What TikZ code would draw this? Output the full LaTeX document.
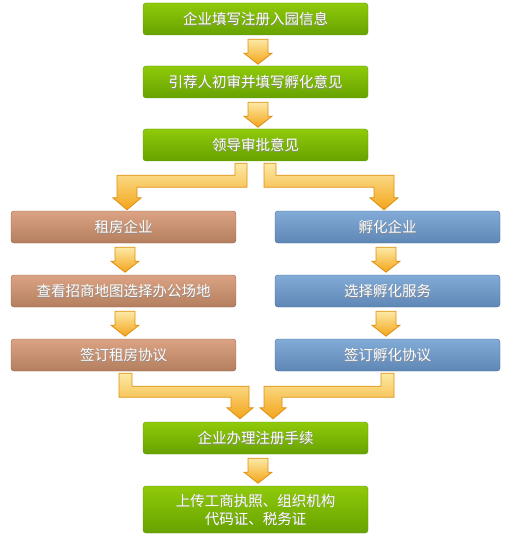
\documentclass[tikz,border=0pt]{standalone}
\usepackage{fontspec}
\setmainfont{Noto Sans CJK SC}
\usetikzlibrary{calc}
\definecolor{gtop}{HTML}{8FCA0A}
\definecolor{gbot}{HTML}{67A200}
\definecolor{gedge}{HTML}{5E9A10}
\definecolor{btop}{HTML}{DBA383}
\definecolor{bbot}{HTML}{B47F5F}
\definecolor{bedge}{HTML}{936445}
\definecolor{ltop}{HTML}{82ABD7}
\definecolor{lbot}{HTML}{5F87B6}
\definecolor{ledge}{HTML}{46699A}
\definecolor{atop}{HTML}{FCEAA6}
\definecolor{abot}{HTML}{F3A51A}
\definecolor{aedge}{HTML}{E08E10}
\tikzset{
  box/.style={rounded corners=3pt, minimum width=225pt, minimum height=32pt,
    inner sep=0pt, font=\fontsize{14.5}{19}\selectfont, text=white, align=center},
  gbox/.style={box, draw=gedge, top color=gtop, bottom color=gbot},
  brbox/.style={box, draw=bedge, top color=btop, bottom color=bbot},
  blbox/.style={box, draw=ledge, top color=ltop, bottom color=lbot},
  blockarrow/.style={draw=aedge, line width=0.8pt, line join=miter, top color=atop, bottom color=abot},
}
\newcommand\shtext[1]{\makebox[0pt]{\raisebox{-0.8pt}[0pt][0pt]{\hspace{0.8pt}\color{black!45}#1}}\makebox[0pt]{#1}}
% #1 node above, #2 horizontal offset
\newcommand\smallarrow[2]{%
  \path[blockarrow] ($(#1.south)+(#2-10,4)$) -- ++(20,0) -- ++(0,14) -- ++(4,0)
    -- ++(-14,11) -- ++(-14,-11) -- ++(4,0) -- cycle;}
\begin{document}
\begin{tikzpicture}[x=1pt,y=-1pt]
\useasboundingbox (0,0) rectangle (510,540);
% nodes
\node[gbox] (n1) at (255.5,19) {\shtext{企业填写注册入园信息}};
\node[gbox] (n2) at (255.5,82) {\shtext{引荐人初审并填写孵化意见}};
\node[gbox] (n3) at (255.5,145) {\shtext{领导审批意见}};
\node[brbox] (l1) at (123.5,227) {\shtext{租房企业}};
\node[brbox] (l2) at (123.5,291) {\shtext{查看招商地图选择办公场地}};
\node[brbox] (l3) at (123.5,355) {\shtext{签订租房协议}};
\node[blbox] (r1) at (387.5,227) {\shtext{孵化企业}};
\node[blbox] (r2) at (387.5,291) {\shtext{选择孵化服务}};
\node[blbox] (r3) at (387.5,355) {\shtext{签订孵化协议}};
\node[gbox] (n4) at (255.5,438) {\shtext{企业办理注册手续}};
\node[gbox, minimum height=47pt] (n5) at (255.5,509.5) {\shtext{上传工商执照、组织机构}\\[-1pt]\shtext{代码证、税务证}};
% straight arrows
\smallarrow{n1}{2.5}
\smallarrow{n2}{2.5}
\smallarrow{n4}{2.5}
\smallarrow{l1}{1.5}
\smallarrow{l2}{1.5}
\smallarrow{r1}{-1.5}
\smallarrow{r2}{-1.5}
% split arrows from n3
\path[blockarrow] ($(n3.south)+(-20.5,2)$) -- ++(12,0) -- ++(0,24) -| ($(l1.north)+(13.5,-13)$)
  -- ++(4,0) -- ($(l1.north)+(3.5,-1)$) -- ($(l1.north)+(-10.5,-13)$) -- ++(4,0)
  |- ($(n3.south)+(-20.5,14)$) -- cycle;
\path[blockarrow] ($(n3.south)+(20.5,2)$) -- ++(-12,0) -- ++(0,24) -| ($(r1.north)+(-13.5,-13)$)
  -- ++(-4,0) -- ($(r1.north)+(-3.5,-1)$) -- ($(r1.north)+(10.5,-13)$) -- ++(-4,0)
  |- ($(n3.south)+(20.5,14)$) -- cycle;
% merge arrows into n4
\path[blockarrow] ($(l3.south)+(-4.5,2)$) -- ++(13,0) -- ++(0,13) -| ($(n4.north)+(-6.5,-14)$)
  -- ++(4,0) -- ($(n4.north)+(-15.5,-3)$) -- ($(n4.north)+(-28.5,-14)$) -- ++(4,0)
  |- ($(l3.south)+(-4.5,26)$) -- cycle;
\path[blockarrow] ($(r3.south)+(6.5,2)$) -- ++(-13,0) -- ++(0,13) -| ($(n4.north)+(8.5,-14)$)
  -- ++(-4,0) -- ($(n4.north)+(17.5,-3)$) -- ($(n4.north)+(30.5,-14)$) -- ++(-4,0)
  |- ($(r3.south)+(6.5,26)$) -- cycle;
\end{tikzpicture}
\end{document}
